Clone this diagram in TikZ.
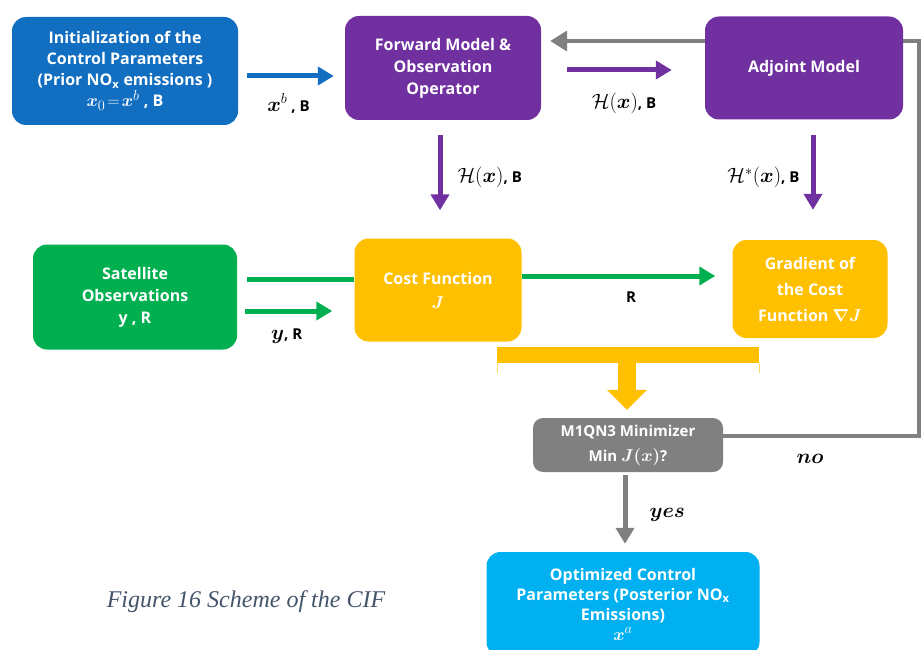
\documentclass[tikz,border=0pt]{standalone}
\usepackage{amsmath,amssymb}
\usepackage{bm}
\usepackage{fontspec}
\setsansfont{Open Sans}
\newfontfamily\capfont{Liberation Serif}
\usetikzlibrary{positioning,arrows.meta,backgrounds,calc}
\definecolor{initblue}{RGB}{18,110,192}
\definecolor{fwdpurple}{RGB}{112,48,160}
\definecolor{satgreen}{RGB}{0,176,80}
\definecolor{costyellow}{RGB}{255,192,0}
\definecolor{minigray}{RGB}{128,128,128}
\definecolor{optblue}{RGB}{0,176,240}
\definecolor{capblue}{RGB}{68,84,106}
\newcommand{\lblmath}[1]{{\fontsize{22}{24}\selectfont$#1$}}
\newcommand{\boxmath}[1]{{\fontsize{19}{21}\selectfont$#1$}}
\tikzset{main box/.style={rectangle, rounded corners=14pt, text=white, align=center,
    font=\sffamily\bfseries\fontsize{16}{22}\selectfont, inner sep=0pt},
  flow/.style={line width=5pt, -{Triangle[length=16pt,width=18pt]}},
  plain flow/.style={line width=5pt},
  arrow label/.style={font=\sffamily\bfseries\fontsize{15}{17}\selectfont, text=black, inner sep=0pt},
  answer/.style={font=\fontsize{21}{23}\selectfont, text=black, inner sep=0pt},}

\begin{document}
\begin{tikzpicture}[x=1pt,y=-1pt]
    \clip (0,0) rectangle (921,650);

    \node[main box, fill=initblue, minimum width=226pt, minimum height=108pt,
      font=\sffamily\bfseries\fontsize{16}{21}\selectfont] (init) at (125,71)
      {Initialization of the\\ Control Parameters\\ (Prior NO\textsubscript{x} emissions )\\ \boxmath{\bm{x}_0\!=\!\bm{x}^{b}} , B};
    \node[main box, fill=fwdpurple, minimum width=196pt, minimum height=104pt] (fwd) at (443,68)
      {Forward Model \&\\ Observation\\ Operator};
    \node[main box, fill=fwdpurple, minimum width=198pt, minimum height=103pt] (adj) at (804,68)
      {Adjoint Model};
    \node[main box, fill=satgreen, minimum width=204pt, minimum height=105pt] (sat) at (135,297)
      {Satellite\\ Observations\\ y , R};
    \node[main box, fill=costyellow, minimum width=167pt, minimum height=103pt,
      font=\sffamily\bfseries\fontsize{16}{24}\selectfont] (cost) at (438,290)
      {Cost Function\\ \boxmath{\bm{J}}};
    \node[main box, fill=costyellow, minimum width=155pt, minimum height=98pt,
      font=\sffamily\bfseries\fontsize{16}{26}\selectfont] (grad) at (810,289)
      {Gradient of\\ the Cost\\ Function \boxmath{\bm{\nabla J}}};
    \node[main box, fill=minigray, rounded corners=10pt, minimum width=190pt, minimum height=54pt,
      font=\sffamily\bfseries\fontsize{15}{25}\selectfont] (mini) at (628,445)
      {M1QN3 Minimizer\\ Min \boxmath{\bm{J(x)}}?};
    \node[main box, fill=optblue, minimum width=273pt, minimum height=104pt,
      font=\sffamily\bfseries\fontsize{16}{20}\selectfont] (opt) at (623,604)
      {Optimized Control\\ Parameters (Posterior NO\textsubscript{x}\\ Emissions)\\ \boxmath{\bm{x}^{a}}};

    \node[font=\capfont\itshape\fontsize{24}{26}\selectfont, text=capblue] (caption) at (246,602)
      {Figure 16 Scheme of the CIF};

    % loop back from the minimizer
    \coordinate (rb) at (919,436);
    \coordinate (rt) at (919,41);
    \begin{scope}[on background layer]
      \draw[flow, minigray, line width=4pt, -{Triangle[length=17pt,width=20pt]}, shorten >=9pt]
        ([yshift=9pt]mini.east) -- (rb) -- (rt) -- ([yshift=27pt]fwd.east);
    \end{scope}

    \draw[flow, initblue, shorten <=9pt, shorten >=11pt] ([yshift=-5pt]init.east)
      -- node[arrow label, below=15pt, xshift=-3pt] {\lblmath{\bm{x}^{b}} , B} ([yshift=-5pt]init.east -| fwd.west);
    \draw[flow, fwdpurple, shorten <=26pt, shorten >=33pt] ([yshift=-2pt]fwd.east)
      -- node[arrow label, below=20pt, xshift=1pt] {\lblmath{\mathcal{H}(\bm{x})}, B} ([yshift=-2pt]fwd.east -| adj.west);
    \draw[flow, fwdpurple, shorten <=15pt, shorten >=28pt] ([xshift=-3pt]fwd.south)
      -- node[arrow label, right=15pt, yshift=2pt] {\lblmath{\mathcal{H}(\bm{x})}, B} ([xshift=-3pt]fwd.south |- cost.north);
    \draw[flow, fwdpurple, shorten <=15pt, shorten >=30pt] ([xshift=9pt]adj.south)
      -- node[arrow label, left=11pt, yshift=2pt] {\lblmath{\mathcal{H}^{*}(\bm{x})}, B} ([xshift=9pt]adj.south |- grad.north);

    \draw[plain flow, satgreen, shorten <=10pt] ([yshift=18pt]sat.east) -- ([yshift=18pt]sat.east -| cost.west);
    \draw[flow, satgreen, shorten <=8pt, shorten >=22pt] ([yshift=-14pt]sat.east)
      -- node[arrow label, below=15pt, xshift=-9pt] {\lblmath{\bm{y}}, R} ([yshift=-14pt]sat.east -| cost.west);
    \draw[flow, satgreen, shorten >=17pt] ([yshift=14pt]cost.east)
      -- node[arrow label, below=13pt, xshift=4pt] {R} ([yshift=14pt]cost.east -| grad.west);

    % bracket joining cost and gradient
    \coordinate (barL) at (497,355);
    \coordinate (barR) at (759,355);
    \coordinate (barM) at (627,355);
    \draw[costyellow, line width=16pt] (barL) -- (barR);
    \draw[costyellow!60, line width=1pt] ([yshift=-8pt]barL) -- ++(0,10);
    \draw[costyellow!60, line width=1pt] ([yshift=-8pt]barR) -- ++(0,10);
    \draw[costyellow, line width=18pt, -{Triangle[length=20pt,width=39pt]}, shorten >=8pt]
      ([yshift=-6pt]barM) -- (barM |- mini.north);

    \draw[flow, minigray, line width=5pt, shorten <=3pt, shorten >=8pt] ([xshift=-3pt]mini.south)
      -- node[answer, right=22pt, yshift=-3pt] {$\bm{yes}$} ([xshift=-3pt]mini.south |- opt.north);
    \node[answer] (no) at (810,459) {$\bm{no}$};
\end{tikzpicture}
\end{document}
